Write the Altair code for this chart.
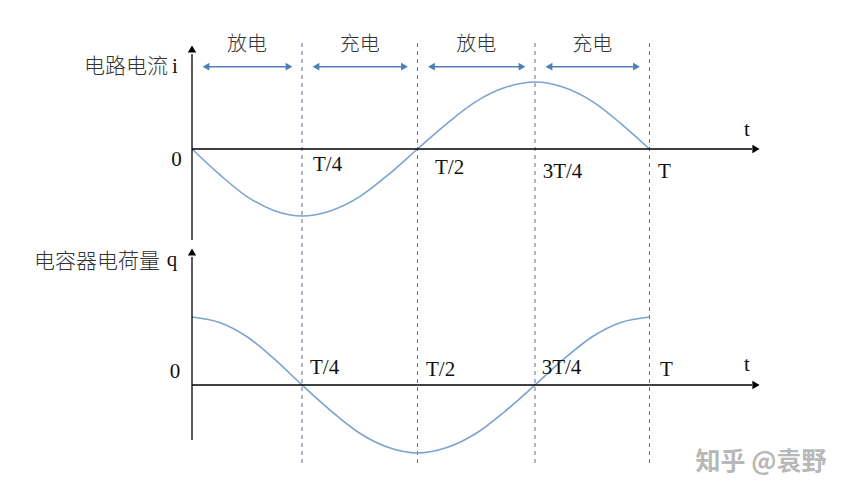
import altair as alt
import pandas as pd

# ---- data ----
t_vals = [0, 0.0625, 0.125, 0.1875, 0.25, 0.3125, 0.375, 0.4375, 0.5,
          0.5625, 0.625, 0.6875, 0.75, 0.8125, 0.875, 0.9375, 1.0]
i_vals = [0, -0.38, -0.71, -0.92, -1.0, -0.92, -0.71, -0.38, 0,
          0.38, 0.71, 0.92, 1.0, 0.92, 0.71, 0.38, 0]
q_vals = [1.0, 0.92, 0.71, 0.38, 0, -0.38, -0.71, -0.92, -1.0,
          -0.92, -0.71, -0.38, 0, 0.38, 0.71, 0.92, 1.0]

mark_t = [0.25, 0.5, 0.75, 1.0]
tick_labels = ["T/4", "T/2", "3T/4", "T"]

seg_start = [0.0, 0.25, 0.5, 0.75]
seg_end = [0.25, 0.5, 0.75, 1.0]
seg_labels = ["放电", "充电", "放电", "充电"]

curves = pd.DataFrame({"t": t_vals, "i": i_vals, "q": q_vals})
marks = pd.DataFrame({"t": mark_t, "label": tick_labels})
segs = pd.DataFrame({"t0": seg_start, "t1": seg_end, "label": seg_labels,
                     "tm": [(a + b) / 2 for a, b in zip(seg_start, seg_end)]})
zero = pd.DataFrame({"y0": [0]})

# ---- scales ----
XS = alt.Scale(domain=[0, 0.25, 0.5, 0.75, 1], range=[184, 294, 409.5, 527, 641.5],
               nice=False, zero=False)
YT = alt.Scale(domain=[-1, 1], range=[208, 74], nice=False, zero=False)
YB = alt.Scale(domain=[-1, 1], range=[445, 309], nice=False, zero=False)

CURVE = "#7aa3cf"
ARROW = "#4f7fba"
DASH = "#5a7199"
CJK = "Noto Sans CJK SC"
SERIF = "Liberation Serif"
CJK_COLOR = "#333333"

layers = []

# dashed separators
layers.append(
    alt.Chart(marks).mark_rule(color=DASH, strokeWidth=1, strokeDash=[4, 4]).encode(
        x=alt.X("t:Q", scale=XS, axis=None), y=alt.value(35), y2=alt.value(459))
)

# curves
layers.append(
    alt.Chart(curves).mark_line(color=CURVE, strokeWidth=1.6, interpolate="monotone").encode(
        x=alt.X("t:Q", scale=XS, axis=None), y=alt.Y("i:Q", scale=YT, axis=None))
)
layers.append(
    alt.Chart(curves).mark_line(color=CURVE, strokeWidth=1.6, interpolate="monotone").encode(
        x=alt.X("t:Q", scale=XS, axis=None), y=alt.Y("q:Q", scale=YB, axis=None))
)

# axes
for ys, ytop, ybot, ytip in [(YT, 46, 232, 41), (YB, 249, 432, 244)]:
    layers.append(alt.Chart(zero).mark_rule(color="black", strokeWidth=1.3).encode(
        x=alt.value(184), y=alt.value(ytop), y2=alt.value(ybot)))
    layers.append(alt.Chart(zero).mark_point(shape="triangle-up", filled=True, size=70,
                                             color="black", opacity=1).encode(
        x=alt.value(184), y=alt.value(ytip)))
    layers.append(alt.Chart(zero).mark_rule(color="black", strokeWidth=1.3).encode(
        x=alt.value(184), x2=alt.value(744), y=alt.Y("y0:Q", scale=ys, axis=None)))
    layers.append(alt.Chart(zero).mark_point(shape="triangle-right", filled=True, size=70,
                                             color="black", opacity=1).encode(
        x=alt.value(748), y=alt.Y("y0:Q", scale=ys, axis=None)))

# double arrows with labels
layers.append(alt.Chart(segs).mark_rule(color=ARROW, strokeWidth=1.5, xOffset=12, x2Offset=-12).encode(
    x=alt.X("t0:Q", scale=XS, axis=None), x2="t1:Q", y=alt.value(58.7)))
layers.append(alt.Chart(segs).mark_point(shape="triangle-left", filled=True, size=60, color=ARROW,
                                         opacity=1, xOffset=14).encode(
    x=alt.X("t0:Q", scale=XS, axis=None), y=alt.value(58.7)))
layers.append(alt.Chart(segs).mark_point(shape="triangle-right", filled=True, size=60, color=ARROW,
                                         opacity=1, xOffset=-13).encode(
    x=alt.X("t1:Q", scale=XS, axis=None), y=alt.value(58.7)))
layers.append(alt.Chart(segs).mark_text(font=CJK, fontSize=20, color=CJK_COLOR, fontWeight=300,
                                        baseline="middle", align="center").encode(
    x=alt.X("tm:Q", scale=XS, axis=None), y=alt.value(37), text="label:N"))

# tick labels
top_off = [11, 17.5, 7.7, 8.5]
top_y = [157, 160, 163.5, 164]
bot_off = [8, 8.5, 6.7, 10.5]
bot_y = [360, 362, 360, 362]
for k in range(4):
    one = marks.iloc[[k]]
    layers.append(alt.Chart(one).mark_text(font=SERIF, fontSize=21, color="#111111",
                                           align="left", baseline="middle", dx=top_off[k]).encode(
        x=alt.X("t:Q", scale=XS, axis=None), y=alt.value(top_y[k]), text="label:N"))
    layers.append(alt.Chart(one).mark_text(font=SERIF, fontSize=21, color="#111111",
                                           align="left", baseline="middle", dx=bot_off[k]).encode(
        x=alt.X("t:Q", scale=XS, axis=None), y=alt.value(bot_y[k]), text="label:N"))


def txt(s, x, y, font=SERIF, size=21, align="center", color="#111111", weight="normal"):
    return alt.Chart(zero).mark_text(font=font, fontSize=size, align=align, baseline="middle",
                                     color=color, fontWeight=weight).encode(
        x=alt.value(x), y=alt.value(y), text=alt.value(s))


layers += [
    txt("0", 168.5, 152), txt("0", 167, 363.5),
    txt("t", 739, 122), txt("t", 739, 357),
    txt("电路电流", 160, 58.7, font=CJK, size=21, align="right", color=CJK_COLOR, weight=300),
    txt("i", 167, 58.7),
    txt("电容器电荷量", 152, 254, font=CJK, size=21, align="right", color=CJK_COLOR, weight=300),
    txt("q", 164, 252),
    txt("知乎 @袁野", 753, 454, font=CJK, size=25, color="#b8b8b8", weight="bold"),
]

chart = alt.layer(*layers).resolve_scale(y="independent").properties(
    width=828, height=476, padding=0, autosize=alt.AutoSizeParams(type="none"),
    background="white"
).configure_view(stroke=None)

chart.save("out.html", embed_options={"renderer": "svg", "actions": False})
